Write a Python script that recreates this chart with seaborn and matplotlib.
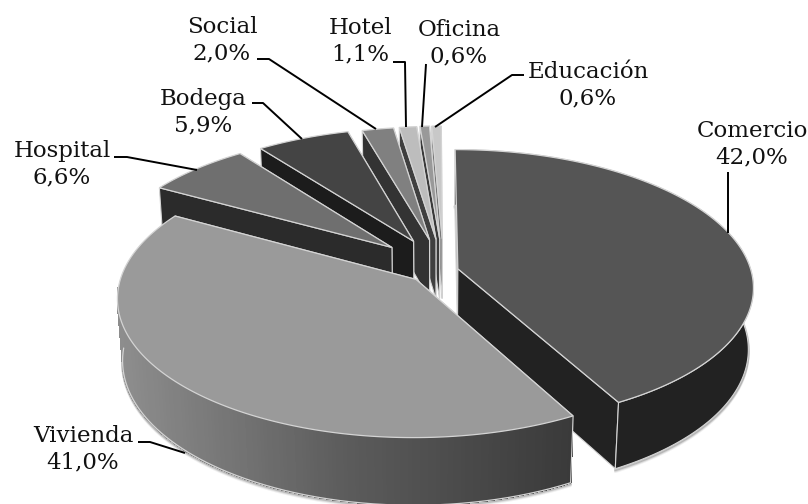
import numpy as np
import matplotlib
matplotlib.use("Agg")
import matplotlib.pyplot as plt
import seaborn as sns

categories = ["Comercio", "Vivienda", "Hospital", "Bodega", "Social", "Hotel", "Oficina", "Educación"]
values = [42.0, 41.0, 6.6, 5.9, 2.0, 1.1, 0.6, 0.6]
explode = [0.082, 0.092, 0.225, 0.23, 0.23, 0.235, 0.24, 0.24]
explode_turn = [8, -4, 8, 8, 8, 8, 8, 8]

top_colors = ["#555555", "#9a9a9a", "#6f6f6f", "#444444", "#808080", "#bdbdbd", "#999999", "#c8c8c8"]
cut_colors = ["#222222", "#444444", "#2b2b2b", "#1c1c1c", "#333333", "#3f3f3f", "#3a3a3a", "#777777"]
edge = "#d4d4d4"

# camera for the flattened pie
CX, CY = 434, 270
RX, RY, DEPTH = 293, 135, 62
PERSP, PERSP_Z = 0.13, 0.016

sns.set_style("white")
plt.rcParams["font.family"] = ["DejaVu Serif"]


def project(u, v, z=0):
    d = 1 + PERSP * v + PERSP_Z * z
    return CX + RX * u / d, CY + (-RY * v + DEPTH * z) / d


fig, ax = plt.subplots(figsize=(8.08, 5.04), dpi=100)
ax.set_position([0, 0, 1, 1])
ax.set_xlim(0, 808)
ax.set_ylim(504, 0)
ax.axis("off")

total = sum(values)
ends = np.cumsum(values) / total * 360
starts = ends - np.array(values) / total * 360

# back slices first, the two big ones last
for i in [7, 6, 5, 4, 3, 2, 0, 1]:
    a0, a1 = starts[i], ends[i]
    mid = np.radians((a0 + a1) / 2 + explode_turn[i])
    du, dv = explode[i] * np.sin(mid), explode[i] * np.cos(mid)
    th = np.radians(np.linspace(a0, a1, max(int(a1 - a0) * 3, 6)))
    u = du + np.sin(th)
    v = dv + np.cos(th)
    z = 100 + i * 10 if i < 2 else 10 + 10 * (7 - i)

    # cut faces, the one facing the viewer goes last
    for k in ([0, -1] if i == 0 else [-1, 0]):
        p = [project(du, dv), project(u[k], v[k]), project(u[k], v[k], 1), project(du, dv, 1)]
        col = cut_colors[i]
        if (i == 7 and k == -1) or (i == 0 and k == 0):
            col = "#b4b4b4"
        ax.fill(*zip(*p), facecolor=col, edgecolor=edge, lw=0.8, zorder=z)

    tx, ty = project(u, v)

    # outer wall, only the two big slices show it
    if i < 2:
        front = np.cos(th) < -0.05 if i == 1 else np.ones_like(th, dtype=bool)
        wx, wy = tx[front], ty[front]
        bx, by = project(u[front], v[front], 1)
        # soft shadow under the front rim
        for off, a in [(3, 0.06), (2, 0.1), (1, 0.16)]:
            ax.plot(bx, by + off, color="black", alpha=a, lw=2, zorder=i)
        if i == 1:
            shade = sns.blend_palette(["#3a3a3a", "#5c5c5c", "#8e8e8e"], 120)
            for k in range(len(wx) - 1):
                f = (wx[k] - wx.min()) / (wx.max() - wx.min())
                c = shade[min(int((1 - f) * 119), 119)]
                ax.fill([wx[k], wx[k + 1], bx[k + 1], bx[k]], [wy[k], wy[k + 1], by[k + 1], by[k]],
                        facecolor=c, edgecolor=c, lw=0.6, antialiased=False, zorder=z + 1)
            ax.plot(bx, by, color=edge, lw=0.9, zorder=z + 2)
            ax.plot([wx[0], bx[0]], [wy[0], by[0]], color=edge, lw=0.8, zorder=z + 2)
        else:
            ax.fill(np.r_[wx, bx[::-1]], np.r_[wy, by[::-1]], facecolor=cut_colors[i],
                    edgecolor=edge, lw=0.8, zorder=z + 1)

    # top of the slice
    ox, oy = project(du, dv)
    ax.fill(np.r_[ox, tx], np.r_[oy, ty], facecolor=top_colors[i], edgecolor=edge, lw=0.9, zorder=z + 3)

# labels
label_pos = [(752, 144), (83, 449), (62, 164), (203, 112), (222, 40), (360, 41), (459, 43), (588, 85)]
for name, val, (lx, ly) in zip(categories, values, label_pos):
    ax.text(lx, ly, f"{name}\n{val:.1f}%".replace(".", ","), ha="center", va="center",
            fontsize=16.5, color="#111111", linespacing=1.23, zorder=300)

leaders = [
    [(728, 172), (728, 233)],
    [(138, 442), (150, 442), (185, 453)],
    [(114, 157), (127, 157), (197, 170)],
    [(252, 103), (263, 103), (302, 139)],
    [(257, 59), (269, 59), (376, 129)],
    [(393, 62), (405, 62), (406, 127)],
    [(426, 64), (422, 127)],
    [(524, 75), (512, 75), (435, 127)],
]
for pts in leaders:
    ax.plot(*zip(*pts), color="black", lw=1.4, zorder=290, solid_capstyle="butt")

fig.savefig("out.png", dpi=100)
